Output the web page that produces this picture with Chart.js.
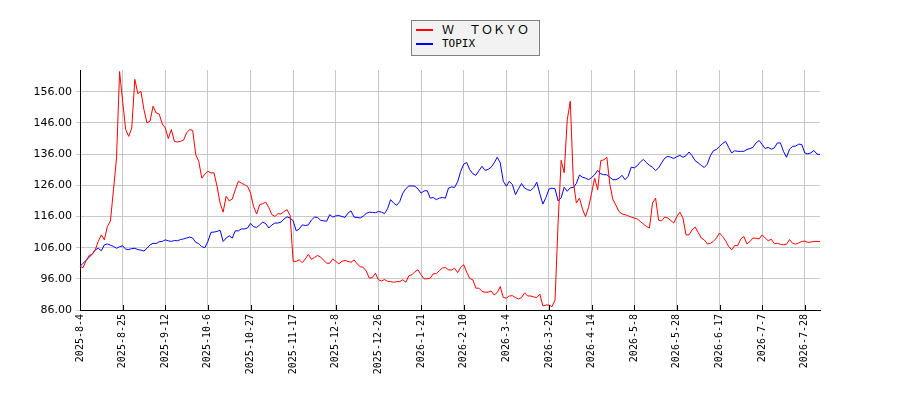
<!DOCTYPE html>
<html><head><meta charset="utf-8">
<script src="https://cdn.jsdelivr.net/npm/chart.js@4.4.1/dist/chart.umd.min.js"></script>
<style>
html,body{margin:0;padding:0;background:#fff;}
#wrap{position:relative;width:900px;height:400px;}
#legend{position:absolute;left:411px;top:20px;width:127px;height:34px;background:#f2f2f2;border:1px solid #808080;}
.sw{position:absolute;left:4px;width:17px;height:2px;}
.lbl{position:absolute;white-space:nowrap;color:#000;}
.cjk{font-family:"Noto Sans CJK JP";font-size:12px;line-height:12px;}
.mono{font-family:"DejaVu Sans Mono";font-size:11px;line-height:11px;}
</style></head>
<body>
<div id="wrap">
<canvas id="c" width="900" height="400"></canvas>
<div id="legend">
  <div class="sw" style="top:8px;background:#ff0000;"></div>
  <div class="lbl cjk" style="left:30px;top:2px;">Ｗ</div>
  <div class="lbl cjk" style="left:57px;top:2px;">ＴＯＫＹＯ</div>
  <div class="sw" style="top:22px;background:#0000ff;"></div>
  <div class="lbl mono" style="left:30px;top:17px;">TOPIX</div>
</div>
</div>
<script>
// Categories: Japanese trading days
const startDate = '2025-08-04';
const endDate = '2026-08-04';
const holidays = ['2025-08-11','2025-09-15','2025-09-23','2025-10-13','2025-11-03','2025-11-24','2025-12-31',
  '2026-01-01','2026-01-02','2026-01-12','2026-02-11','2026-02-23','2026-03-20','2026-04-29',
  '2026-05-04','2026-05-05','2026-05-06','2026-07-20'];

const tickLabels = ['2025-8-4','2025-8-25','2025-9-12','2025-10-6','2025-10-27','2025-11-17','2025-12-8',
  '2025-12-26','2026-1-21','2026-2-10','2026-3-4','2026-3-25','2026-4-14','2026-5-8','2026-5-28',
  '2026-6-17','2026-7-7','2026-7-28'];

const yTicks = [86, 96, 106, 116, 126, 136, 146, 156];

const wTokyo = [
100, 99.6, 101.8, 103.5, 103.9, 105.3, 108.0, 110.1, 108.5, 112.8,
114.6, 124.6, 134.8, 162.5, 153, 143.9, 141.7, 144.4, 160, 155.4,
156.2, 150.3, 146, 146.6, 151.4, 149.2, 148.9, 145.7, 144.4, 141,
143.9, 140.1, 139.9, 140.1, 140.5, 142.8, 143.9, 143.6, 135.9, 133.7,
128.3, 129.6, 130.5, 130, 130, 125.7, 120.3, 117.4, 122.5, 121,
121.6, 124.6, 127.3, 126.7, 126.2, 125.7, 123.5, 119.2, 116.8, 119.8,
120.1, 120.6, 118.9, 116.6, 116, 116.9, 116.8, 117.6, 118.2, 116.3,
101.6, 101.6, 102.1, 101.2, 102.4, 103.9, 102.2, 102.9, 103.5, 103,
102, 101, 101, 102.4, 101.6, 100.8, 101.6, 101.9, 101.6, 101.3,
102.1, 100.8, 99.9, 99.7, 98.5, 96.2, 96.4, 97.8, 95.7, 95.3,
95.8, 95.2, 95.1, 94.9, 95.1, 95.1, 95.7, 94.9, 97, 97.3,
98.3, 98.9, 97.3, 96, 96, 96.2, 97.6, 97.7, 98.6, 99.5,
99.6, 98.9, 98.8, 99.4, 98, 99.7, 100.5, 98.1, 96.1, 95.7,
93, 93, 92, 91.7, 91.7, 92.1, 90.8, 91.6, 93.5, 90,
89.8, 90.5, 90.6, 90, 89.5, 90, 91.5, 90.5, 90.5, 90.2,
90, 91.1, 87.3, 87.6, 87.6, 87.1, 89.2, 114, 134, 130,
147, 153, 127.3, 120.3, 121.9, 118.4, 116, 118.9, 123.5, 128.3,
124.6, 133.9, 134.2, 135, 126.2, 121.4, 119.6, 117.6, 116.8, 116.6,
116.2, 115.8, 115.5, 115.2, 114.4, 113.6, 112.8, 112.3, 120.3, 121.9,
114.8, 114.6, 115.8, 115.5, 114.7, 113.9, 116, 117.4, 115.5, 110.1,
110.1, 111.7, 112.6, 110.9, 109.1, 108.5, 107.2, 107.4, 108, 109.1,
110.7, 109.6, 108.2, 106.4, 105.3, 106.7, 106.7, 108.8, 109.6, 107.2,
108, 109.1, 109, 108.8, 110.1, 109.1, 108.2, 108.7, 107.3, 107.4,
107.1, 106.9, 107.1, 108.6, 107.4, 107.1, 107.5, 108, 108.1, 107.7,
107.8, 108, 108, 108
];

const topix = [
100, 101, 101.9, 102.9, 103.9, 105.3, 105.8, 105, 106.9, 107.2,
106.8, 106.4, 105.8, 106.3, 106.6, 105.5, 105.4, 105.7, 105.8, 105.4,
105.2, 104.9, 105.8, 106.9, 107.4, 107.3, 107.9, 108, 108.5, 108.2,
108, 108.3, 108.2, 108.6, 108.8, 109.1, 109.4, 109.1, 107.7, 107.3,
106.3, 106, 108, 110.9, 111, 111.2, 111.6, 108, 109.1, 109.8,
109.1, 111.4, 111.4, 112, 112, 112.3, 113.8, 112.7, 112.5, 113.3,
114.2, 113.7, 112.3, 113.3, 113.9, 113.9, 114.2, 115.2, 115.9, 115.5,
114.6, 111.4, 112, 113.3, 113.1, 113.3, 114.9, 115.8, 115.7, 114.8,
114.6, 114.5, 116.6, 115.8, 116.2, 116.3, 116, 115.7, 117.1, 117.8,
115.8, 115.7, 115.5, 116.1, 117, 117.4, 117.3, 117.2, 117.6, 117.4,
116.9, 118.5, 121.4, 120.3, 119.6, 120.8, 123.5, 124.9, 125.8, 125.8,
125.7, 124.8, 123.5, 124.2, 124.3, 121.9, 122.1, 121.4, 121.9, 122.1,
121.9, 125.1, 125.5, 125.3, 127.1, 130.5, 132.8, 133.3, 131, 129.7,
129.2, 130.7, 132.1, 130.8, 131.1, 131.8, 133.2, 135, 133.2, 127.3,
125.7, 127.3, 126.2, 123, 124.9, 126.6, 125.1, 124.6, 124.3, 125.3,
127, 123.3, 120, 122.1, 124.8, 125.1, 124.9, 121, 122, 125.4,
124.1, 125.2, 125.3, 126.6, 129.3, 128.6, 128.3, 127.8, 128.5, 129.4,
130.8, 129.7, 129.4, 129.4, 128.6, 127.8, 127.8, 128.3, 129.2, 127.8,
128.9, 131.8, 131.6, 132.3, 133.5, 134.3, 133.3, 132.4, 131.8, 130.7,
131.6, 133.2, 134.7, 135.3, 135, 134.6, 135.2, 135.6, 135, 135.5,
136.7, 135.5, 133.9, 133.2, 132.4, 131.7, 132.8, 135.5, 137.1, 137.5,
138.5, 139.4, 140.1, 138.2, 136.4, 137.1, 136.9, 136.9, 136.9, 137.5,
137.8, 138.2, 139.6, 140.4, 139.1, 137.8, 138.2, 137.6, 138, 139.6,
139.6, 136.9, 135, 137.6, 138.5, 138.6, 139.2, 139.1, 136.4, 136.1,
136.4, 137.2, 136, 135.9
];

// build trading-day labels
const dates = [];
(function(){
  const pad = n => (n < 10 ? '0' : '') + n;
  let d = new Date(startDate + 'T00:00:00Z');
  const end = new Date(endDate + 'T00:00:00Z');
  while (d <= end) {
    const wd = d.getUTCDay();
    const y = d.getUTCFullYear(), m = d.getUTCMonth() + 1, day = d.getUTCDate();
    const iso = y + '-' + pad(m) + '-' + pad(day);
    if (wd !== 0 && wd !== 6 && holidays.indexOf(iso) < 0) dates.push(y + '-' + m + '-' + day);
    d = new Date(d.getTime() + 86400000);
  }
})();

const innerTicks = {
  id: 'innerTicks',
  afterDatasetsDraw(chart) {
    const s = chart.scales.x, ctx = chart.ctx;
    ctx.save();
    ctx.strokeStyle = '#000';
    ctx.lineWidth = 1;
    ctx.beginPath();
    s.ticks.forEach((t, i) => {
      const x = Math.round(s.getPixelForTick(i)) + 0.5;
      ctx.moveTo(x, s.top);
      ctx.lineTo(x, s.top - 5);
    });
    ctx.stroke();
    ctx.restore();
  }
};

new Chart(document.getElementById('c').getContext('2d'), {
  type: 'line',
  data: {
    labels: dates,
    datasets: [
      { label: 'Ｗ　ＴＯＫＹＯ', data: wTokyo, borderColor: '#ff0000', backgroundColor: '#ff0000',
        borderWidth: 1, pointRadius: 0, tension: 0, fill: false },
      { label: 'TOPIX', data: topix, borderColor: '#0000ff', backgroundColor: '#0000ff',
        borderWidth: 1, pointRadius: 0, tension: 0, fill: false }
    ]
  },
  plugins: [innerTicks],
  options: {
    responsive: false,
    animation: false,
    devicePixelRatio: 1,
    layout: { padding: { left: 0, right: 80, top: 70, bottom: 0 } },
    plugins: { legend: { display: false }, tooltip: { enabled: false } },
    scales: {
      x: {
        type: 'category',
        offset: false,
        grid: { color: '#c8c8c8', lineWidth: 1, drawTicks: false },
        border: { display: true, color: '#000', width: 1 },
        ticks: { autoSkip: false, maxRotation: 90, minRotation: 90, padding: 4, color: '#000',
          font: { family: 'DejaVu Sans Mono', size: 10 } },
        afterBuildTicks: (s) => { s.ticks = s.ticks.filter(t => tickLabels.indexOf(dates[t.value]) >= 0); },
        afterFit: (s) => { s.height = 90; }
      },
      y: {
        min: 86, max: 163,
        grid: { color: '#c8c8c8', lineWidth: 1, tickLength: 4 },
        border: { display: true, color: '#000', width: 1 },
        ticks: { padding: 4, color: '#000', font: { family: 'DejaVu Sans', size: 11 },
          callback: (v) => Number(v).toFixed(2) },
        afterBuildTicks: (s) => { s.ticks = yTicks.map(v => ({ value: v })); },
        afterFit: (s) => { s.width = 80; }
      }
    }
  }
});
</script>
</body></html>
